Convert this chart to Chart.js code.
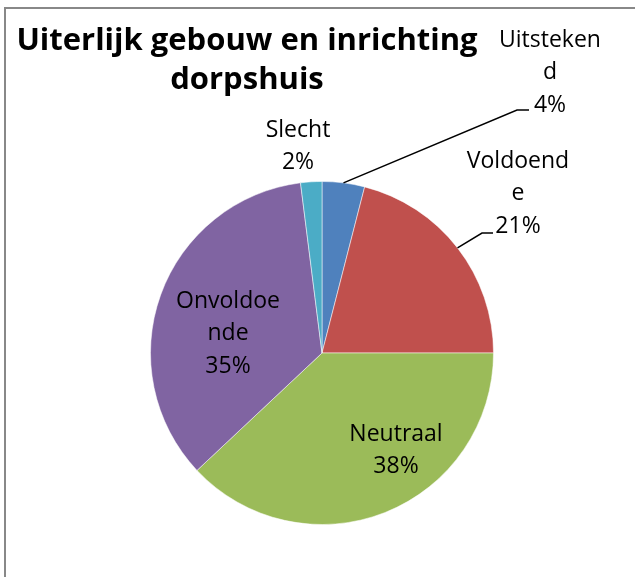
<!DOCTYPE html>
<html>
<head>
<meta charset="utf-8">
<script src="https://cdn.jsdelivr.net/npm/chart.js@4"></script>
<style>
  html, body { margin: 0; padding: 0; background: #fff; }
  canvas { display: block; }
</style>
</head>
<body>
<canvas id="grafiek" width="635" height="577"></canvas>
<script>
// Gegevens van de grafiek
const categorieen = ["Uitstekend", "Voldoende", "Neutraal", "Onvoldoende", "Slecht"];
const percentages = [4, 21, 38, 35, 2];
// Labels zoals ze in het origineel afgebroken worden
const labelRegels = [["Uitsteken", "d"], ["Voldoend", "e"], ["Neutraal"], ["Onvoldoe", "nde"], ["Slecht"]];
const kleuren = ["#4F81BD", "#C0504D", "#9BBB59", "#8064A2", "#4BACC6"];
const titelRegels = ["Uiterlijk gebouw en inrichting", "dorpshuis"];

// Plaats van de labels (midden eerste regel) en eventuele verbindingslijn
const labelPlek = [
    { x: 550, y: 40, lijn: [517, 110, 529, 110] },
    { x: 518, y: 161, lijn: [482, 233, 493, 233] },
    { x: 396, y: 434 },
    { x: 228, y: 301 },
    { x: 298, y: 130 }
];

const tekstFont = "23px 'Open Sans', sans-serif";
const regelHoogte = 32.5;

const labelsPlugin = {
    id: "labelsPlugin",
    beforeDraw(chart) {
        const ctx = chart.ctx;
        ctx.save();
        ctx.fillStyle = "#fff";
        ctx.fillRect(0, 0, chart.width, chart.height);
        // Rand van het grafiekvak
        ctx.strokeStyle = "#888";
        ctx.lineWidth = 2;
        ctx.beginPath();
        ctx.moveTo(5, chart.height);
        ctx.lineTo(5, 8);
        ctx.lineTo(chart.width, 8);
        ctx.stroke();
        ctx.restore();
    },
    afterDraw(chart) {
        const ctx = chart.ctx;
        const meta = chart.getDatasetMeta(0);
        ctx.save();

        // Titel
        ctx.fillStyle = "#000";
        ctx.font = "bold 31px 'Open Sans', sans-serif";
        ctx.textAlign = "center";
        ctx.textBaseline = "middle";
        ctx.fillText(titelRegels[0], 247, 41);
        ctx.fillText(titelRegels[1], 247, 80);

        // Labels met percentages
        ctx.font = tekstFont;
        meta.data.forEach((arc, i) => {
            const plek = labelPlek[i];
            const regels = labelRegels[i].concat([percentages[i] + "%"]);
            regels.forEach((r, j) => {
                ctx.fillText(r, plek.x, plek.y + j * regelHoogte);
            });
            if (plek.lijn) {
                const hoek = (arc.startAngle + arc.endAngle) / 2;
                const sx = arc.x + Math.cos(hoek) * arc.outerRadius;
                const sy = arc.y + Math.sin(hoek) * arc.outerRadius;
                ctx.strokeStyle = "#000";
                ctx.lineWidth = 1.5;
                ctx.beginPath();
                ctx.moveTo(sx, sy);
                ctx.lineTo(plek.lijn[0], plek.lijn[1]);
                ctx.lineTo(plek.lijn[2], plek.lijn[3]);
                ctx.stroke();
            }
        });
        ctx.restore();
    }
};

new Chart(document.getElementById("grafiek").getContext("2d"), {
    type: "pie",
    data: {
        labels: categorieen,
        datasets: [{
            data: percentages,
            backgroundColor: kleuren,
            borderColor: "rgba(255,255,255,0.5)",
            borderWidth: 1
        }]
    },
    options: {
        responsive: false,
        animation: false,
        layout: {
            padding: { left: 150, right: 141, top: 181, bottom: 52 }
        },
        plugins: {
            legend: { display: false },
            title: { display: false },
            tooltip: { enabled: false }
        }
    },
    plugins: [labelsPlugin]
});
</script>
</body>
</html>
